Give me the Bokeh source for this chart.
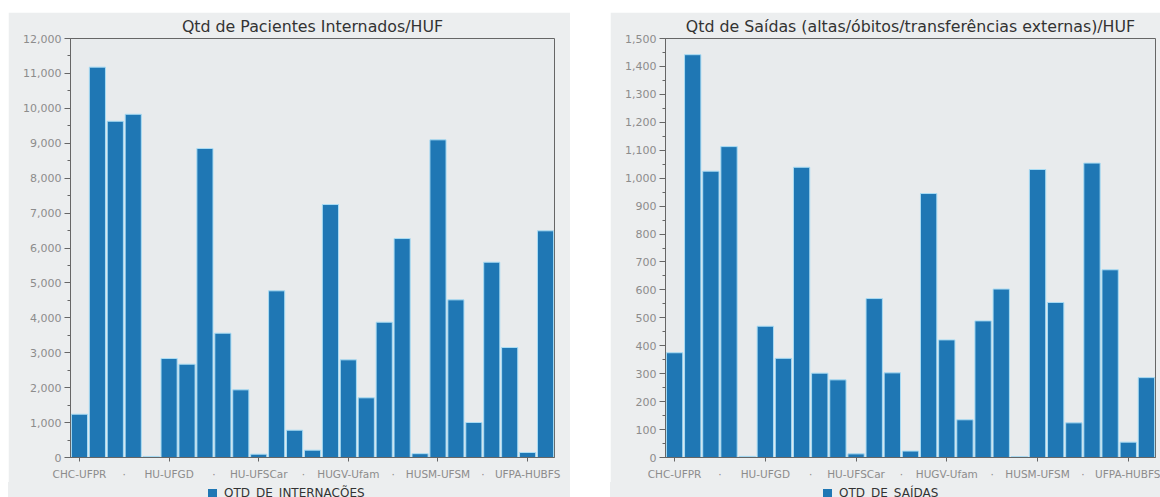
from bokeh.plotting import figure
from bokeh.models import (FixedTicker, SingleIntervalTicker, NumeralTickFormatter, Range1d,
                          Spacer, Div)
from bokeh.layouts import row, column
from bokeh.embed import file_html
from bokeh.resources import INLINE

# ---- data ----
internacoes = [1240, 11180, 9630, 9830, 30, 2835, 2672, 8850, 3560, 1938, 95, 4773, 782,
               210, 7245, 2797, 1709, 3875, 6271, 110, 9098, 4515, 1002, 5593, 3150, 143, 6492]
saidas = [375, 1442, 1025, 1113, 4, 470, 355, 1039, 302, 278, 13, 569, 303,
          23, 945, 421, 135, 489, 603, 3, 1031, 555, 124, 1054, 672, 55, 286]
tick_positions = [0, 5, 10, 15, 20, 25]
tick_labels = ["CHC-UFPR", "HU-UFGD", "HU-UFSCar", "HUGV-Ufam", "HUSM-UFSM", "UFPA-HUBFS"]
dot_positions = [2.5, 7.5, 12.5, 17.5, 22.5]

FONT = "DejaVu Sans"
CARD = "#eceeef"
FRAME = "#e8ebed"
BAR = "#1f77b4"
EDGE = "#a9dcf4"
GRAY = "#8c8c8c"

MAIN_H = 470
STRIP_H = 15


def make_panel(title, values, ymax, yint, width, left, right):
    n = len(values)
    p = figure(width=width, height=MAIN_H, output_backend="svg", toolbar_location=None,
               x_range=Range1d(-0.5, n - 0.5), y_range=Range1d(0, ymax),
               min_border_left=left, min_border_right=right, min_border_top=0,
               min_border_bottom=24)
    p.border_fill_color = CARD
    p.background_fill_color = FRAME
    p.outline_line_color = "#666666"
    p.outline_line_width = 1
    p.grid.visible = False

    p.title.text = title
    p.title.align = "center"
    p.title.text_font = FONT
    p.title.text_font_size = "15.8px"
    p.title.text_font_style = "normal"
    p.title.text_color = "#333333"
    p.title.standoff = 5

    xs = list(range(n))
    p.vbar(x=xs, top=values, width=0.9, fill_color=BAR, line_color=EDGE, line_width=1)

    # x axis
    xa = p.xaxis[0]
    labels = {}
    for pos, lab in zip(tick_positions, tick_labels):
        labels[pos] = lab
    for pos in dot_positions:
        labels[pos] = "\u00b7"
    xa.ticker = FixedTicker(ticks=sorted(tick_positions + dot_positions), minor_ticks=tick_positions)
    xa.major_label_overrides = labels
    xa.major_tick_line_color = None
    xa.minor_tick_line_color = "#666666"
    xa.minor_tick_out = 4
    xa.minor_tick_in = 0
    xa.axis_line_color = "#666666"
    xa.major_label_text_font = FONT
    xa.major_label_text_font_size = "10.5px"
    xa.major_label_text_color = GRAY
    xa.major_label_standoff = 4

    # y axis
    ya = p.yaxis[0]
    ya.ticker = SingleIntervalTicker(interval=yint, num_minor_ticks=2)
    ya.formatter = NumeralTickFormatter(format="0,0")
    ya.major_tick_out = 6
    ya.major_tick_in = 0
    ya.minor_tick_out = 3
    ya.minor_tick_in = 0
    ya.major_tick_line_color = "#666666"
    ya.minor_tick_line_color = "#666666"
    ya.axis_line_color = "#666666"
    ya.major_label_text_font = FONT
    ya.major_label_text_font_size = "11px"
    ya.major_label_text_color = GRAY
    ya.major_label_standoff = 3
    return p


def make_legend_strip(label, width, sq_x):
    html = (
        f'<div style="margin:0;padding:5px 0 0 {sq_x}px;font-family:\'DejaVu Sans\';'
        f'font-size:12px;line-height:12px;color:#333333;white-space:nowrap;">'
        f'<span style="display:inline-block;width:9px;height:9px;background:{BAR};'
        f'margin-right:7px;vertical-align:top;margin-top:2px;"></span>{label}</div>'
    )
    return Div(text=html, width=width, height=STRIP_H, margin=0,
               styles={"background-color": CARD, "overflow": "hidden"})


p1 = make_panel("Qtd de Pacientes Internados/HUF", internacoes, 12000, 1000, 562, 62, 16)
p2 = make_panel("Qtd de Saídas (altas/óbitos/transferências externas)/HUF", saidas, 1500, 100,
                550, 55, 5)
s1 = make_legend_strip("QTD_DE_INTERNAÇÕES", 562, 200)
s2 = make_legend_strip("QTD_DE_SAÍDAS", 550, 213)

layout = column(Spacer(height=12),
                row(Spacer(width=8), column(p1, s1, spacing=0), Spacer(width=40),
                    column(p2, s2, spacing=0), spacing=0),
                spacing=0)

open("out.html", "w").write(file_html(layout, INLINE))
